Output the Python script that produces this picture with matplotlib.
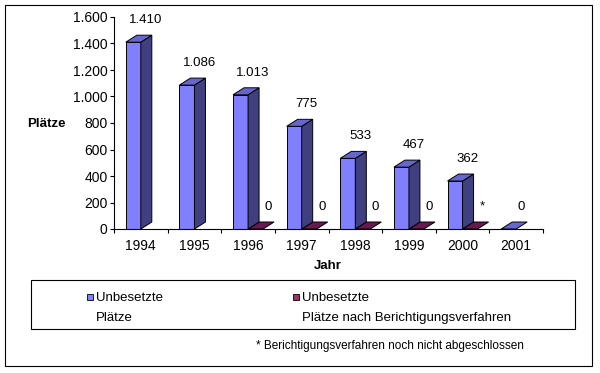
import matplotlib
matplotlib.use("Agg")
import matplotlib.pyplot as plt
from matplotlib.patches import Polygon, Rectangle
from matplotlib.ticker import FixedLocator, FuncFormatter

plt.rcParams['font.family'] = ['Liberation Sans', 'DejaVu Sans']
plt.rcParams['font.size'] = 9.5

# Daten
jahre = ['1994', '1995', '1996', '1997', '1998', '1999', '2000', '2001']
unbesetzt = [1410, 1086, 1013, 775, 533, 467, 362, 0]
nach_berichtigung = [None, None, 0, 0, 0, 0, 0, None]
labels_unbesetzt = ['1.410', '1.086', '1.013', '775', '533', '467', '362', '0']
labels_nach = ['', '', '0', '0', '0', '0', '*', '']
y_ticks = [0, 200, 400, 600, 800, 1000, 1200, 1400, 1600]

W, H = 600, 373


def px(x, y):
    # Pixelkoordinaten -> Figurkoordinaten
    return x / W, 1 - y / H


fig = plt.figure(figsize=(6, 3.73), dpi=100)
fig.patch.set_facecolor('white')
ax = fig.add_axes([114 / W, 1 - 229 / H, 429 / W, 212 / H])
ax.set_xlim(0, len(jahre))
ax.set_ylim(0, 1600)

# 3D-Tiefe in Datenkoordinaten
dx = 11 / 429 * len(jahre)
dy = 7 / 212 * 1600
breite = 0.28


def balken(i, v, off, front, seite, oben):
    x0 = i + off
    x1 = x0 + breite
    kw = dict(edgecolor='black', linewidth=0.7, clip_on=False)
    if v > 0:
        ax.add_patch(Rectangle((x0, 0), breite, v, facecolor=front, **kw))
        ax.add_patch(Polygon([(x1, 0), (x1 + dx, dy), (x1 + dx, v + dy), (x1, v)],
                             closed=True, facecolor=seite, **kw))
    ax.add_patch(Polygon([(x0, v), (x1, v), (x1 + dx, v + dy), (x0 + dx, v + dy)],
                         closed=True, facecolor=oben, **kw))
    return x0 + breite / 2


for i, v in enumerate(nach_berichtigung):
    if v is None:
        continue
    xc = balken(i, v, 0.50, '#993366', '#4D1933', '#661A4D')
    ax.annotate(labels_nach[i], (xc, v), xytext=(9, 16), textcoords='offset points',
                ha='center', va='center', annotation_clip=False)

for i, v in enumerate(unbesetzt):
    xc = balken(i, v, 0.22, '#8080FF', '#404080', '#6666CC')
    ax.annotate(labels_unbesetzt[i], (xc, v), xytext=(9, 16), textcoords='offset points',
                ha='center', va='center', annotation_clip=False)

# Achsen
for s in ['top', 'right']:
    ax.spines[s].set_visible(False)
for s in ['left', 'bottom']:
    ax.spines[s].set_linewidth(0.8)

ax.yaxis.set_major_locator(FixedLocator(y_ticks))
ax.yaxis.set_major_formatter(FuncFormatter(lambda v, p: f"{int(v):,}".replace(',', '.')))
ax.tick_params(axis='y', direction='out', length=3, width=0.8, pad=1.5, labelsize=10)

ax.set_xticks([i + 0.5 for i in range(len(jahre))])
ax.set_xticklabels(jahre)
ax.set_xticks(range(len(jahre) + 1), minor=True)
ax.tick_params(axis='x', which='major', length=0, pad=7, labelsize=10)
ax.tick_params(axis='x', which='minor', direction='out', length=3, width=0.8)

fig.text(*px(46, 124), 'Plätze', ha='center', va='center', fontweight='bold')
fig.text(*px(328, 266), 'Jahr', ha='center', va='center', fontweight='bold')

# Legende
lx, ly = px(31, 329)
fig.patches.append(Rectangle((lx, ly), (575 - 31) / W, 49 / H, transform=fig.transFigure,
                             fill=False, edgecolor='black', linewidth=0.8))
for x_sq, farbe, text in [(87, '#8080FF', 'Unbesetzte\nPlätze'),
                          (293, '#993366', 'Unbesetzte\nPlätze nach Berichtigungsverfahren')]:
    sx, sy = px(x_sq, 300)
    fig.patches.append(Rectangle((sx, sy), 6 / W, 6 / H, transform=fig.transFigure,
                                 facecolor=farbe, edgecolor='black', linewidth=0.6))
    zeile1, zeile2 = text.split('\n')
    fig.text(*px(x_sq + 9, 298), zeile1, ha='left', va='center')
    fig.text(*px(x_sq + 9, 318), zeile2, ha='left', va='center')

fig.text(*px(390, 346), '* Berichtigungsverfahren noch nicht abgeschlossen',
         ha='center', va='center', fontsize=8.5)

# Rahmen
rx, ry = px(5, 366)
fig.patches.append(Rectangle((rx, ry), 587 / W, 361 / H, transform=fig.transFigure,
                             fill=False, edgecolor='black', linewidth=0.8))

fig.savefig('out.png', dpi=100)
